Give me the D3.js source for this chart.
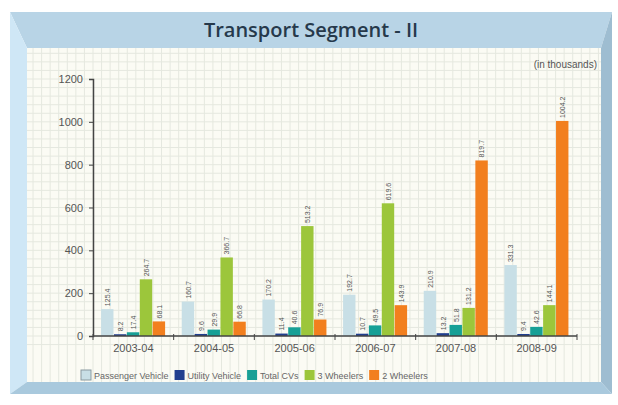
<!DOCTYPE html>
<html>
<head>
<meta charset="utf-8">
<script src="https://cdn.jsdelivr.net/npm/d3@7"></script>
<style>
  body { margin: 0; background: #ffffff; }
  svg { display: block; }
</style>
</head>
<body>
<svg id="chart" width="618" height="405"></svg>
<script>
// Export volumes by segment (in thousands)
const years = ["2003-04", "2004-05", "2005-06", "2006-07", "2007-08", "2008-09"];
const seriesNames = ["Passenger Vehicle", "Utility Vehicle", "Total CVs", "3 Wheelers", "2 Wheelers"];
const passengerVehicle = [125.4, 160.7, 170.2, 192.7, 210.9, 331.3];
const utilityVehicle = [8.2, 9.6, 11.4, 10.7, 13.2, 9.4];
const totalCVs = [17.4, 29.9, 40.6, 49.5, 51.8, 42.6];
const threeWheelers = [264.7, 366.7, 513.2, 619.6, 131.2, 144.1];
const twoWheelers = [68.1, 66.8, 76.9, 143.9, 819.7, 1004.2];
const yTicks = [0, 200, 400, 600, 800, 1000, 1200];
const seriesColors = ["#c8dfe6", "#213f8f", "#17a096", "#9cc63b", "#f27f1e"];

const seriesValues = [passengerVehicle, utilityVehicle, totalCVs, threeWheelers, twoWheelers];
const rows = years.map((y, i) => ({
  year: y,
  values: seriesNames.map((s, k) => ({ series: s, k, value: seriesValues[k][i] }))
}));

const svg = d3.select("#chart");

// ---- bevelled frame ----
const o = { x0: 10, y0: 12, x1: 612, y1: 394 };
const p = { x0: 27, y0: 48, x1: 601, y1: 382 };
const frame = svg.append("g");
frame.append("polygon")
  .attr("points", [[o.x0, o.y0], [o.x1, o.y0], [p.x1, p.y0], [p.x0, p.y0]].join(" "))
  .attr("fill", "#b8d4e6");
frame.append("polygon")
  .attr("points", [[o.x0, o.y0], [p.x0, p.y0], [p.x0, p.y1], [o.x0, o.y1]].join(" "))
  .attr("fill", "#cfe7f6");
frame.append("polygon")
  .attr("points", [[o.x1, o.y0], [p.x1, p.y0], [p.x1, p.y1], [o.x1, o.y1]].join(" "))
  .attr("fill", "#9ebdd1");
frame.append("polygon")
  .attr("points", [[o.x0, o.y1], [p.x0, p.y1], [p.x1, p.y1], [o.x1, o.y1]].join(" "))
  .attr("fill", "#a9c9dd");

// title
svg.append("text")
  .attr("x", 311).attr("y", 37)
  .attr("text-anchor", "middle")
  .attr("font-family", "'Open Sans', sans-serif")
  .attr("font-weight", 600)
  .attr("font-size", 20)
  .attr("fill", "#26394b")
  .text("Transport Segment - II");

// ---- inner panel with graph-paper grid ----
svg.append("rect")
  .attr("x", p.x0).attr("y", p.y0)
  .attr("width", p.x1 - p.x0).attr("height", p.y1 - p.y0)
  .attr("fill", "#fbfbf4");

const plot = { left: 93, right: 577, top: 79, bottom: 336 };

const y = d3.scaleLinear().domain([0, 1200]).range([plot.bottom, plot.top]);
const x0 = d3.scaleBand().domain(years).range([plot.left, plot.right])
  .paddingInner(0.2).paddingOuter(0.1);
const x1 = d3.scaleBand().domain(seriesNames).range([0, x0.bandwidth()]);
const color = d3.scaleOrdinal().domain(seriesNames).range(seriesColors);

const grid = svg.append("g");
const cell = (y(0) - y(40));
// horizontal grid lines, aligned with the value scale
const hLines = d3.range(-40, 1200 + 40 * 8, 40).map(v => y(v)).filter(v => v > p.y0 && v < p.y1);
grid.selectAll("line.h").data(hLines).join("line")
  .attr("x1", p.x0).attr("x2", p.x1)
  .attr("y1", d => d).attr("y2", d => d)
  .attr("stroke", "#e5e8df")
  .attr("stroke-width", 1);
const vLines = d3.range(plot.left - cell * 7, p.x1, cell).filter(v => v > p.x0);
grid.selectAll("line.v").data(vLines).join("line")
  .attr("x1", d => d).attr("x2", d => d)
  .attr("y1", p.y0).attr("y2", p.y1)
  .attr("stroke", "#e5e8df")
  .attr("stroke-width", 1);

// units note
svg.append("text")
  .attr("x", 597).attr("y", 68)
  .attr("text-anchor", "end")
  .attr("font-family", "'Liberation Sans', Arial, sans-serif")
  .attr("font-size", 10)
  .attr("fill", "#555")
  .text("(in thousands)");

// ---- bars ----
const groups = svg.append("g").selectAll("g").data(rows).join("g")
  .attr("transform", d => `translate(${x0(d.year)},0)`);
groups.selectAll("rect").data(d => d.values).join("rect")
  .attr("x", d => x1(d.series))
  .attr("y", d => y(d.value))
  .attr("width", x1.bandwidth() - 0.5)
  .attr("height", d => y(0) - y(d.value))
  .attr("fill", d => color(d.series));

// value labels, rotated
groups.selectAll("text").data(d => d.values).join("text")
  .attr("transform", d => `translate(${x1(d.series) + x1.bandwidth() / 2 + 2.5},${y(d.value) - 3}) rotate(-90)`)
  .attr("font-family", "'Liberation Sans', Arial, sans-serif")
  .attr("font-size", 7)
  .attr("fill", "#555")
  .text(d => d.value.toFixed(1));

// ---- axes ----
const yAxis = svg.append("g")
  .attr("transform", `translate(${plot.left},0)`)
  .call(d3.axisLeft(y).tickValues(yTicks).tickFormat(d3.format("d")).tickSize(4).tickPadding(6));
const xAxis = svg.append("g")
  .attr("transform", `translate(0,${plot.bottom})`)
  .call(d3.axisBottom(x0).tickSize(0).tickPadding(8));
// boundary ticks between year groups
const step = x0.step();
xAxis.selectAll("line.sep").data(d3.range(0, years.length + 1)).join("line")
  .attr("class", "sep")
  .attr("x1", i => plot.left + i * step).attr("x2", i => plot.left + i * step)
  .attr("y1", -2).attr("y2", 4)
  .attr("stroke", "#444");

[yAxis, xAxis].forEach(a => {
  a.select(".domain").attr("stroke", "#444").attr("stroke-width", 1.5);
  a.selectAll(".tick line").attr("stroke", "#444");
  a.selectAll("text")
    .attr("font-family", "'Liberation Sans', Arial, sans-serif")
    .attr("font-size", 11)
    .attr("fill", "#555");
});
xAxis.select(".domain").attr("d", `M${plot.left},0H${plot.right}`);

// ---- legend: laid out left to right from measured text widths ----
const legend = svg.append("g").attr("transform", "translate(81,370)");
let lx = 0;
seriesNames.forEach((name, i) => {
  const item = legend.append("g").attr("transform", `translate(${lx},0)`);
  item.append("rect")
    .attr("width", 10).attr("height", 10)
    .attr("fill", color(name))
    .attr("stroke", i === 0 ? "#8a9aa0" : "none");
  const t = item.append("text")
    .attr("x", 13).attr("y", 9)
    .attr("font-family", "'Liberation Sans', Arial, sans-serif")
    .attr("font-size", 9)
    .attr("fill", "#666")
    .text(name);
  lx += 13 + t.node().getComputedTextLength() + 6;
});
</script>
</body>
</html>
